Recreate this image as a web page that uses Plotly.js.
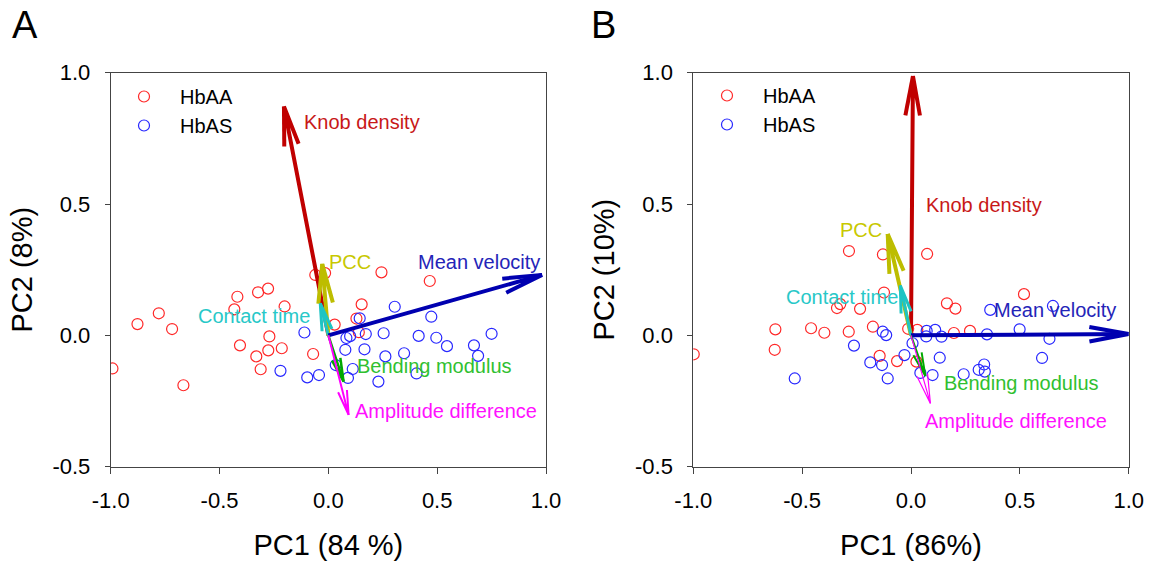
<!DOCTYPE html>
<html><head><meta charset="utf-8">
<script src="https://cdn.plot.ly/plotly-3.0.1.min.js"></script>
<style>html,body{margin:0;padding:0;background:#fff}#chart{width:1151px;height:562px}</style>
</head><body><div id="chart"></div>
<script>
// ---------------- data ----------------
const xTickVals = [-1, -0.5, 0, 0.5, 1];
const xTickText = ['-1.0', '-0.5', '0.0', '0.5', '1.0'];
const yTickVals = [-0.5, 0, 0.5, 1];
const yTickText = ['-0.5', '0.0', '0.5', '1.0'];

const groups = ['HbAA', 'HbAS'];
const variables = ['Knob density', 'PCC', 'Contact time', 'Mean velocity', 'Bending modulus', 'Amplitude difference'];

// Panel A loadings
const loadA_x = [-0.204, -0.028, -0.037, 0.982, 0.070, 0.093];
const loadA_y = [0.871, 0.272, 0.122, 0.230, -0.176, -0.303];
// Panel B loadings
const loadB_x = [0.009, -0.107, -0.049, 1.000, 0.066, 0.089];
const loadB_y = [0.987, 0.386, 0.190, 0.005, -0.155, -0.259];

// Panel A scores
const aaA_x = [-0.992, -0.877, -0.779, -0.718, -0.666, -0.418, -0.432, -0.406, -0.323, -0.277, -0.201, -0.271, -0.276, -0.214, -0.331, -0.311, -0.070, -0.060, -0.015, 0.029, 0.153, 0.129, 0.140, 0.244, 0.466];
const aaA_y = [-0.126, 0.043, 0.084, 0.024, -0.190, 0.147, 0.099, -0.038, 0.164, 0.178, 0.110, -0.004, -0.057, -0.049, -0.080, -0.129, -0.071, 0.230, 0.237, 0.041, 0.118, 0.064, 0.012, 0.240, 0.207];
const asA_x = [-0.220, -0.110, -0.097, -0.043, 0.034, 0.083, 0.100, 0.078, 0.144, 0.172, 0.166, 0.112, 0.090, 0.230, 0.254, 0.262, 0.305, 0.348, 0.415, 0.473, 0.496, 0.405, 0.545, 0.669, 0.688, 0.750];
const asA_y = [-0.135, 0.011, -0.160, -0.151, -0.113, -0.010, -0.003, -0.055, 0.065, 0.005, -0.053, -0.128, -0.162, -0.176, 0.008, -0.080, 0.109, -0.068, -0.002, 0.071, -0.009, -0.145, -0.041, -0.038, -0.078, 0.006];

// Panel B scores
const aaB_x = [-0.998, -0.623, -0.626, -0.459, -0.398, -0.285, -0.286, -0.340, -0.325, -0.234, -0.175, -0.129, -0.124, -0.144, -0.064, -0.013, 0.029, 0.074, 0.025, 0.165, 0.204, 0.197, 0.271, 0.519];
const aaB_y = [-0.072, 0.023, -0.055, 0.027, 0.010, 0.321, 0.014, 0.104, 0.119, 0.101, 0.033, 0.308, 0.163, -0.078, -0.098, 0.025, 0.021, 0.310, -0.100, 0.122, 0.102, 0.009, 0.017, 0.157];
const asB_x = [-0.534, -0.262, -0.187, -0.133, -0.107, -0.130, -0.114, -0.030, 0.007, 0.043, 0.072, 0.070, 0.111, 0.140, 0.099, 0.132, 0.242, 0.311, 0.336, 0.339, 0.349, 0.364, 0.499, 0.602, 0.636, 0.652];
const asB_y = [-0.164, -0.039, -0.103, -0.113, -0.164, 0.014, 0.001, -0.075, -0.030, -0.143, 0.017, -0.004, 0.021, -0.005, -0.151, -0.085, -0.148, -0.131, -0.111, -0.138, 0.004, 0.097, 0.023, -0.086, -0.013, 0.112];

const panelLetters = ['A', 'B'];
const xTitles = ['PC1 (84 %)', 'PC1 (86%)'];
const yTitles = ['PC2 (8%)', 'PC2 (10%)'];

// ---------------- styles / layout ----------------
const W = 1151, H = 562;
const FONT = 'Liberation Sans, Arial, Helvetica, sans-serif';
const xDomA = [110.7 / W, 546 / W];
const xDomB = [693.3 / W, 1128.7 / W];
const yDom = [(H - 466.7) / H, (H - 72.7) / H];
const xRange = [-1, 1], yRange = [-0.5, 1];

const groupColors = ['rgb(255,40,40)', 'rgb(40,40,255)'];
const arrowColors = ['#c00000', '#bdbd00', '#1ec4c4', '#0000b0', '#00a800', '#ff00ff'];
const labelColors = ['#c81818', '#c8c800', '#28c8c8', '#2424b8', '#30c030', '#ff10ff'];
const widthsA = [4, 4, 3, 4, 2.5, 2];
const widthsB = [4, 4, 3, 4, 2, 1.2];
const headsA = [40, 40, 28, 40, 24, 25];
const headsB = [40, 40, 28, 40, 24, 30];
// label placement [x, y, anchor]
const labelPosA = [[-0.12, 0.812, 'left'], [-0.006, 0.280, 'left'], [-0.073, 0.073, 'right'], [0.401, 0.278, 'left'], [0.121, -0.116, 'left'], [0.113, -0.287, 'left']];
const labelPosB = [[0.061, 0.496, 'left'], [-0.126, 0.401, 'right'], [-0.049, 0.147, 'right'], [0.372, 0.096, 'left'], [0.142, -0.183, 'left'], [0.053, -0.325, 'left']];

const plotWpx = (xDomA[1] - xDomA[0]) * W;
const plotHpx = (yDom[1] - yDom[0]) * H;
const sx = plotWpx / (xRange[1] - xRange[0]);
const sy = plotHpx / (yRange[1] - yRange[0]);

function arrowTrace(tx, ty, head, color, width, xa, ya) {
  const px = tx * sx, py = ty * sy;
  const L = Math.hypot(px, py);
  const ux = px / L, uy = py / L;
  const h = Math.min(head, 0.85 * L);
  const ang = 10.5 * Math.PI / 180;
  const xs = [0, tx], ys = [0, ty];
  [1, -1].forEach((s, i) => {
    const c = Math.cos(s * ang), sn = Math.sin(s * ang);
    const rx = (-ux) * c - (-uy) * sn;
    const ry = (-ux) * sn + (-uy) * c;
    if (i === 1) { xs.push(null, tx); ys.push(null, ty); }
    xs.push((px + h * rx) / sx);
    ys.push((py + h * ry) / sy);
  });
  return {x: xs, y: ys, mode: 'lines', xaxis: xa, yaxis: ya, showlegend: false, hoverinfo: 'skip',
          line: {color: color, width: width}};
}

const traces = [];
const scorePanels = [
  {xa: 'x', ya: 'y', legend: 'legend', sets: [[aaA_x, aaA_y], [asA_x, asA_y]]},
  {xa: 'x2', ya: 'y2', legend: 'legend2', sets: [[aaB_x, aaB_y], [asB_x, asB_y]]}
];
scorePanels.forEach(p => {
  p.sets.forEach((s, g) => {
    traces.push({x: s[0], y: s[1], name: groups[g], mode: 'markers', type: 'scatter',
      xaxis: p.xa, yaxis: p.ya, legend: p.legend, hoverinfo: 'x+y+name',
      marker: {symbol: 'circle-open', size: 11, color: groupColors[g], line: {width: 1.2, color: groupColors[g]}}});
  });
});

const annotations = [];
const loadPanels = [
  {xa: 'x', ya: 'y', lx: loadA_x, ly: loadA_y, w: widthsA, hd: headsA, lp: labelPosA},
  {xa: 'x2', ya: 'y2', lx: loadB_x, ly: loadB_y, w: widthsB, hd: headsB, lp: labelPosB}
];
loadPanels.forEach(p => {
  variables.forEach((v, i) => {
    traces.push(arrowTrace(p.lx[i], p.ly[i], p.hd[i], arrowColors[i], p.w[i], p.xa, p.ya));
    annotations.push({xref: p.xa, yref: p.ya, x: p.lp[i][0], y: p.lp[i][1], text: v, showarrow: false,
      xanchor: p.lp[i][2], yanchor: 'middle', font: {family: FONT, size: 20, color: labelColors[i]}});
  });
});

annotations.push({xref: 'paper', yref: 'paper', x: 25 / W, y: 1 - 25 / H, text: panelLetters[0], showarrow: false,
  xanchor: 'center', yanchor: 'middle', font: {family: FONT, size: 38, color: '#000'}});
annotations.push({xref: 'paper', yref: 'paper', x: 603.5 / W, y: 1 - 25 / H, text: panelLetters[1], showarrow: false,
  xanchor: 'center', yanchor: 'middle', font: {family: FONT, size: 38, color: '#000'}});

function xAxis(dom, anchor, title) {
  return {domain: dom, anchor: anchor, range: xRange, tickvals: xTickVals, ticktext: xTickText,
    showgrid: false, zeroline: false, showline: true, mirror: true, linecolor: '#444', linewidth: 1,
    ticks: 'outside', ticklen: 6, tickwidth: 1, tickcolor: '#444', ticklabelstandoff: 8,
    tickfont: {family: FONT, size: 22, color: '#000'},
    title: {text: title, font: {family: FONT, size: 29, color: '#000'}, standoff: 22}};
}
function yAxis(dom, anchor, title) {
  return {domain: dom, anchor: anchor, range: yRange, tickvals: yTickVals, ticktext: yTickText,
    showgrid: false, zeroline: false, showline: true, mirror: true, linecolor: '#444', linewidth: 1,
    ticks: 'outside', ticklen: 5, tickwidth: 1, tickcolor: '#444', ticklabelstandoff: 10,
    tickfont: {family: FONT, size: 22, color: '#000'},
    title: {text: title, font: {family: FONT, size: 29, color: '#000'}, standoff: 11}};
}

const legendCommon = {xref: 'paper', yref: 'paper', xanchor: 'left', yanchor: 'top', bgcolor: 'rgba(0,0,0,0)',
  borderwidth: 0, font: {family: FONT, size: 20, color: '#000'}, itemwidth: 62, tracegroupgap: 0};

const layout = {
  width: W, height: H, margin: {l: 0, r: 0, t: 0, b: 0}, paper_bgcolor: '#fff', plot_bgcolor: '#fff',
  font: {family: FONT, color: '#000'},
  showlegend: true,
  xaxis: xAxis(xDomA, 'y', xTitles[0]),
  yaxis: yAxis(yDom, 'x', yTitles[0]),
  xaxis2: xAxis(xDomB, 'y2', xTitles[1]),
  yaxis2: yAxis(yDom, 'x2', yTitles[1]),
  legend: Object.assign({}, legendCommon, {x: 108 / W, y: 1 - 77 / H}),
  legend2: Object.assign({}, legendCommon, {x: 691 / W, y: 1 - 76 / H}),
  annotations: annotations
};

Plotly.newPlot('chart', traces, layout, {displayModeBar: false, responsive: false});
</script>
</body></html>
